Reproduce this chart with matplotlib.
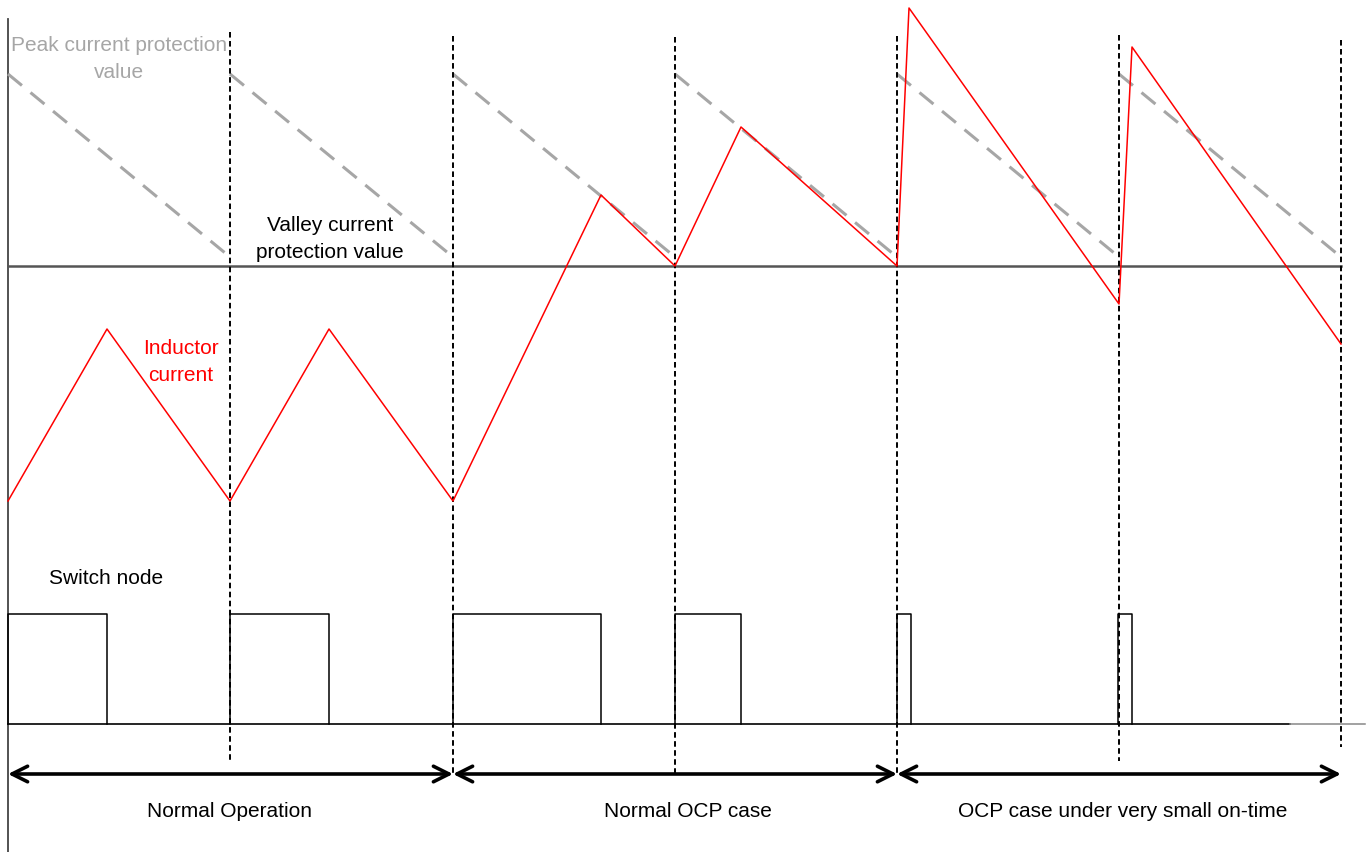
import numpy as np
import matplotlib
matplotlib.use("Agg")
import matplotlib.pyplot as plt

plt.rcParams['lines.scale_dashes'] = False
FONT = ['Liberation Sans Narrow', 'Liberation Sans', 'DejaVu Sans']
FS = 15

# period boundaries (time axis, pixel-like units)
t_edges = [8, 230, 453, 675, 897, 1119, 1341]
dash_top = [33, 37, 38, 37, 36, 41]
dash_bottom = [762, 775, 775, 775, 762, 748]

# levels
valley_level = 267
peak_start, peak_end = 75, 258
switch_low, switch_high = 725, 615
arrow_y = 775

# inductor current vertices
il_t = [8, 107, 230, 329, 453, 601, 675, 741, 897, 909, 1119, 1132, 1341]
il_v = [502, 330, 502, 330, 502, 196, 267, 128, 267, 9, 305, 48, 345]

# switch node on-intervals
sw_on = [8, 230, 453, 675, 897, 1118]
sw_off = [107, 329, 601, 741, 911, 1132]

# operating regions
regions = [(8, 453, 'Normal Operation'), (453, 897, 'Normal OCP case'),
           (897, 1341, 'OCP case under very small on-time')]
label_x = [230, 688, 1123]

fig = plt.figure(figsize=(13.7, 8.53), dpi=100)
ax = fig.add_axes([0, 0, 1, 1])
ax.set_xlim(0, 1370)
ax.set_ylim(853, 0)
ax.axis('off')

# left axis
ax.plot([8, 8], [20, 853], color='#444444', lw=1.3)

# valley line
ax.plot([8, 1341], [valley_level, valley_level], color='#555555', lw=1.8)

# peak current protection (dashed gray ramps)
for a, b in zip(t_edges[:-1], t_edges[1:]):
    ax.plot([a, b], [peak_start, peak_end], color='#a6a6a6', lw=2.2,
            linestyle=(0, (13, 8)))

# switch node
ax.plot([8, 1290], [switch_low, switch_low], color='black', lw=1.2)
ax.plot([1290, 1365], [switch_low, switch_low], color='#888888', lw=1.1)
for on, off in zip(sw_on, sw_off):
    ax.plot([on, on, off, off], [switch_low, switch_high, switch_high, switch_low],
            color='black', lw=1.1)

# period markers
for x, top, bot in zip(t_edges[1:], dash_top, dash_bottom):
    ax.plot([x, x], [top, bot], color='black', lw=1.4, linestyle=(0, (4, 2.5)))

# inductor current
ax.plot(il_t, il_v, color='red', lw=1.1)

# region arrows
for (a, b, label), lx in zip(regions, label_x):
    ax.annotate('', xy=(b, arrow_y), xytext=(a, arrow_y),
                arrowprops=dict(arrowstyle='<->', lw=2.6, color='black',
                                mutation_scale=28, shrinkA=0, shrinkB=0))
    ax.text(lx, 812, label, ha='center', va='center', fontsize=FS, family=FONT)

ax.text(119, 59, 'Peak current protection\nvalue', color='#a6a6a6', ha='center',
        va='center', fontsize=FS, family=FONT, linespacing=1.55)
ax.text(330, 239, 'Valley current\nprotection value', color='black', ha='center',
        va='center', fontsize=FS, family=FONT, linespacing=1.55)
ax.text(181, 362, 'Inductor\ncurrent', color='red', ha='center',
        va='center', fontsize=FS, family=FONT, linespacing=1.55)
ax.text(106, 578, 'Switch node', color='black', ha='center',
        va='center', fontsize=FS, family=FONT)

fig.savefig('out.png', dpi=100)
